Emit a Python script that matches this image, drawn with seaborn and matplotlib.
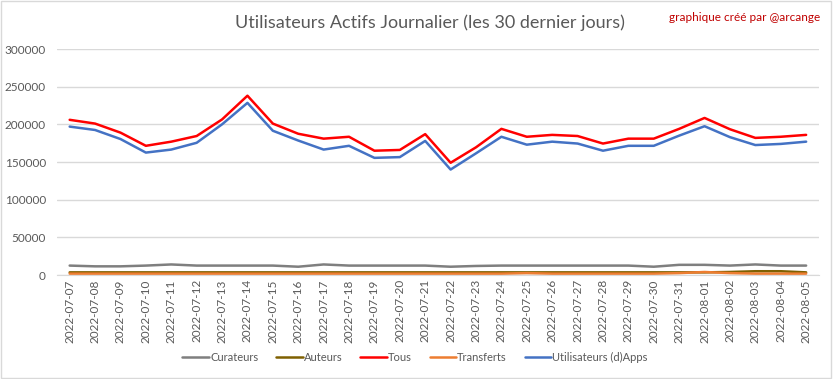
import pandas as pd
import matplotlib.pyplot as plt
import seaborn as sns
from matplotlib.patches import Rectangle

# dates des 30 derniers jours
dates = pd.date_range('2022-07-07', '2022-08-05').strftime('%Y-%m-%d').tolist()

curateurs = [12500, 11500, 11500, 12500, 14000, 12500, 12500, 12500, 12500, 11000,
             14000, 12500, 12500, 12500, 12500, 11000, 12000, 12500, 12500, 12500,
             12500, 12500, 12500, 11000, 13500, 13500, 12500, 14000, 12500, 12500]
auteurs = [3500, 3500, 3500, 3500, 3500, 3500, 3500, 3500, 3500, 3500,
           3500, 3500, 3500, 3500, 3500, 3500, 3500, 3500, 3500, 3500,
           3500, 3500, 3500, 3500, 3500, 3500, 4000, 5000, 5000, 3500]
tous = [206000, 201000, 189000, 171500, 177000, 184500, 206500, 238000, 201000, 187500,
        181000, 183500, 165000, 166000, 187000, 149000, 169500, 194000, 183500, 186000,
        184500, 174500, 181000, 181000, 194000, 208500, 193500, 182000, 183500, 186000]
transferts = [1800, 1800, 1800, 1800, 1800, 1800, 1800, 1800, 1800, 1800,
              1800, 1800, 1800, 1800, 1800, 1800, 1800, 1800, 2500, 1800,
              1800, 1800, 1800, 1800, 2500, 4000, 2500, 1800, 1800, 1800]
apps = [197000, 192500, 180500, 162500, 166500, 175500, 200000, 228500, 191500, 178500,
        166500, 171500, 155500, 156500, 178000, 140000, 161500, 183500, 173000, 177000,
        174500, 165000, 171500, 171500, 185000, 197500, 183000, 172500, 174000, 177000]

series = {'Curateurs': curateurs, 'Auteurs': auteurs, 'Tous': tous,
          'Transferts': transferts, 'Utilisateurs (d)Apps': apps}
couleurs = ['#7F7F7F', '#7F6000', '#FF0000', '#ED7D31', '#4472C4']

df = pd.DataFrame(series)
df['date'] = dates
df_long = df.melt(id_vars='date', var_name='serie', value_name='valeur')

sns.set_style('white')
plt.rcParams['font.family'] = ['Lato', 'DejaVu Sans']

fig = plt.figure(figsize=(8.33, 3.79), dpi=100)
ax = fig.add_axes([0.0684, 0.2744, 0.9146, 0.5963])

sns.lineplot(data=df_long, x='date', y='valeur', hue='serie', palette=couleurs,
             linewidth=1.8, sort=False, ax=ax, legend=True)

ax.set_xlim(-0.5, len(dates) - 0.5)
ax.set_ylim(0, 300000)
ax.set_yticks(range(0, 300001, 50000))
ax.yaxis.grid(True, color='#D9D9D9', linewidth=1)
ax.set_axisbelow(True)
for s in ['top', 'right', 'left']:
    ax.spines[s].set_visible(False)
ax.spines['bottom'].set_color('#D9D9D9')
ax.tick_params(axis='x', rotation=90, labelsize=8.5, colors='#595959', length=0, pad=3)
ax.tick_params(axis='y', labelsize=8.5, colors='#595959', length=0, pad=8)
ax.set_xlabel('')
ax.set_ylabel('')

fig.text(0.516, 0.94, 'Utilisateurs Actifs Journalier (les 30 dernier jours)',
         ha='center', va='center', fontsize=13, color='#595959')
fig.text(0.985, 0.955, 'graphique créé par @arcange', ha='right', va='center',
         fontsize=8.5, color='#C00000')

leg = ax.legend(loc='center', bbox_to_anchor=(0.47, -0.365), ncol=5, frameon=False,
                fontsize=8, handlelength=2.4, handletextpad=0.1, columnspacing=1.6)
for t in leg.get_texts():
    t.set_color('#595959')

fig.patches.append(Rectangle((0.001, 0.002), 0.997, 0.995, transform=fig.transFigure,
                             fill=False, edgecolor='#D9D9D9', linewidth=1))

fig.savefig('out.png', dpi=100)
